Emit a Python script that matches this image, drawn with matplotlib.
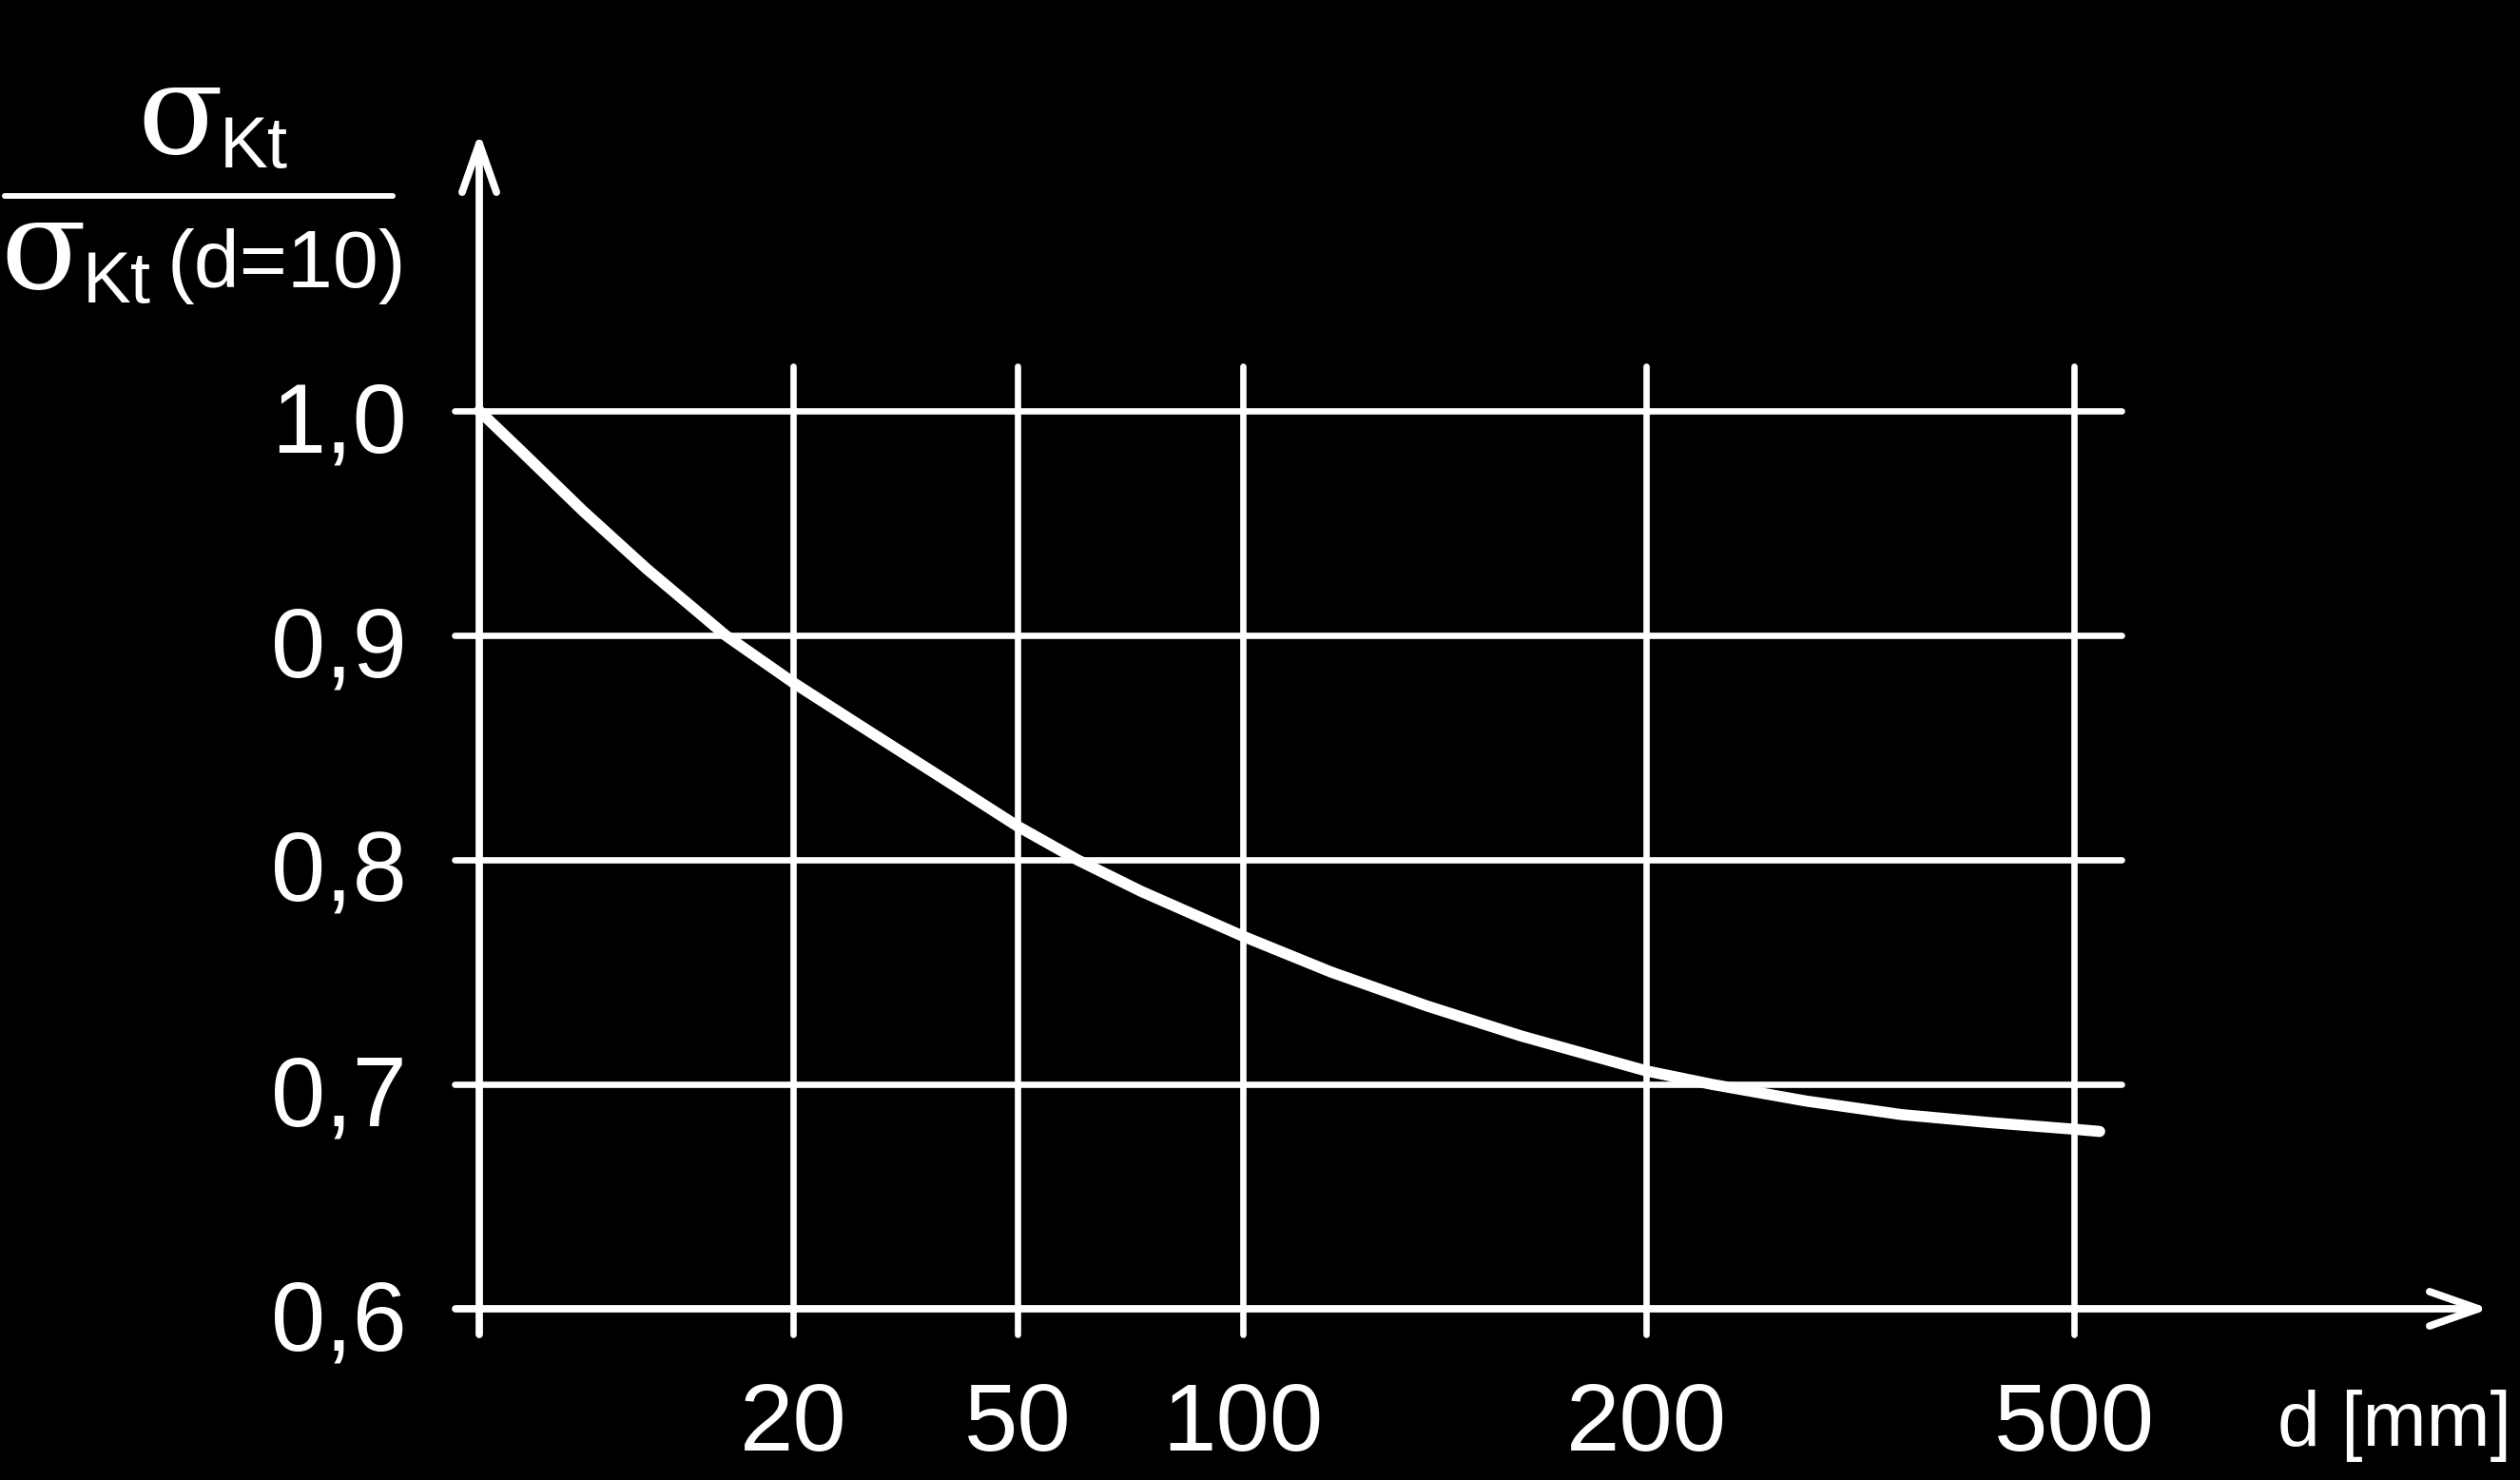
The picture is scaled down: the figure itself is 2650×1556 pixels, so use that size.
import numpy as np
import matplotlib
matplotlib.use("Agg")
import matplotlib.pyplot as plt
from matplotlib.lines import Line2D
from matplotlib import transforms

# ---------------- data ----------------
X_TICKS = [10, 20, 50, 100, 200, 500]
X_TICK_LABELS = ["", "20", "50", "100", "200", "500"]
Y_TICKS = [0.6, 0.7, 0.8, 0.9, 1.0]
Y_TICK_LABELS = ["0,6", "0,7", "0,8", "0,9", "1,0"]

D_CURVE = [10, 11.3, 13.3, 15.33, 17.85, 20, 24.2, 28.4, 41.1, 50, 63.3, 77.4,
           100, 121.9, 145.5, 169.1, 200, 246, 312.7, 346, 379.3, 440, 500, 518]
RATIO = [1.000, 0.9826, 0.9555, 0.9297, 0.900, 0.879, 0.870, 0.861, 0.834,
         0.815, 0.800, 0.786, 0.766, 0.750, 0.735, 0.7215, 0.706, 0.700, 0.6925,
         0.6895, 0.6865, 0.683, 0.680, 0.679]

# ---------------- layout ----------------
W, H = 2650, 1556
TICK_PX = np.array([504, 834, 1070, 1307, 1731, 2181], float)  # custom (non-log) axis
D_ARR = np.array(X_TICKS, float)


def _lin(v, src, dst):
    v = np.asarray(v, float)
    out = np.interp(v, src, dst)
    lo = v < src[0]
    hi = v > src[-1]
    s0 = (dst[1] - dst[0]) / (src[1] - src[0])
    s1 = (dst[-1] - dst[-2]) / (src[-1] - src[-2])
    out = np.where(lo, dst[0] + (v - src[0]) * s0, out)
    out = np.where(hi, dst[-1] + (v - src[-1]) * s1, out)
    return out


def fwd(d):
    return _lin(d, D_ARR, TICK_PX)


def inv(p):
    return _lin(p, TICK_PX, D_ARR)


def yval(py):
    return 1.0 - (py - 432.0) / 2360.0


def fx(px):
    return px / W


def fy(py):
    return 1 - py / H


fig = plt.figure(figsize=(W / 100, H / 100), dpi=100, facecolor="black")
ax = fig.add_axes([0, 0, 1, 1])
ax.set_facecolor("black")
ax.set_xscale("function", functions=(fwd, inv))
ax.set_xlim(float(inv(0)), float(inv(W)))
ax.set_ylim(yval(H), yval(0))
ax.axis("off")

WHITE = "white"
GRID_LW = 4.8
AXIS_LW = 5.6

# horizontal grid lines
for v in Y_TICKS[1:]:
    ax.plot([float(inv(478)), float(inv(2231))], [v, v], color=WHITE, lw=GRID_LW,
            solid_capstyle="round")
# vertical grid lines
for d in X_TICKS[1:]:
    ax.plot([d, d], [yval(1403), yval(385)], color=WHITE, lw=GRID_LW,
            solid_capstyle="round")

arrow = dict(arrowstyle="->,head_length=3.7,head_width=1.3", lw=AXIS_LW,
             color=WHITE, shrinkA=0, shrinkB=0, mutation_scale=10,
             capstyle="round", joinstyle="round")
# x axis
ax.annotate("", xy=(float(inv(2618)), Y_TICKS[0]),
            xytext=(float(inv(479)), Y_TICKS[0]), arrowprops=arrow)
# y axis
ax.annotate("", xy=(X_TICKS[0], yval(139)),
            xytext=(X_TICKS[0], yval(1403)), arrowprops=arrow)

# curve
ax.plot(D_CURVE, RATIO, color=WHITE, lw=8.4, solid_capstyle="round",
        solid_joinstyle="round")

SANS = "Liberation Sans"
# y tick labels
ytr = transforms.offset_copy(ax.transData, fig=fig, x=0, y=-43, units="dots")
for v, lab in zip(Y_TICKS, Y_TICK_LABELS):
    ax.text(float(inv(428)), v, lab, transform=ytr, ha="right", va="baseline",
            fontsize=74, color=WHITE, family=SANS)
# x tick labels
for d, lab in zip(X_TICKS, X_TICK_LABELS):
    if lab:
        ax.text(d, yval(1525), lab, ha="center", va="baseline", fontsize=73,
                color=WHITE, family=SANS)

fig.text(fx(2641), fy(1520), "d [mm]", ha="right", va="baseline", fontsize=58,
         color=WHITE, family=SANS)

# y-axis label as a fraction
SERIF = "DejaVu Serif"
fig.text(fx(144), fy(161), "σ", ha="left", va="baseline", fontsize=95,
         color=WHITE, family=SERIF)
fig.text(fx(231), fy(176), "Kt", ha="left", va="baseline", fontsize=55,
         color=WHITE, family=SANS)
fig.add_artist(Line2D([fx(5), fx(413)], [fy(206), fy(206)], color=WHITE,
                      lw=4.3, solid_capstyle="round"))
fig.text(fx(0), fy(303), "σ", ha="left", va="baseline", fontsize=95,
         color=WHITE, family=SERIF)
fig.text(fx(87), fy(318), "Kt", ha="left", va="baseline", fontsize=55,
         color=WHITE, family=SANS)
fig.text(fx(176), fy(302), "(d=10)", ha="left", va="baseline", fontsize=62,
         color=WHITE, family=SANS)

fig.savefig("out.png", dpi=100, facecolor="black")
